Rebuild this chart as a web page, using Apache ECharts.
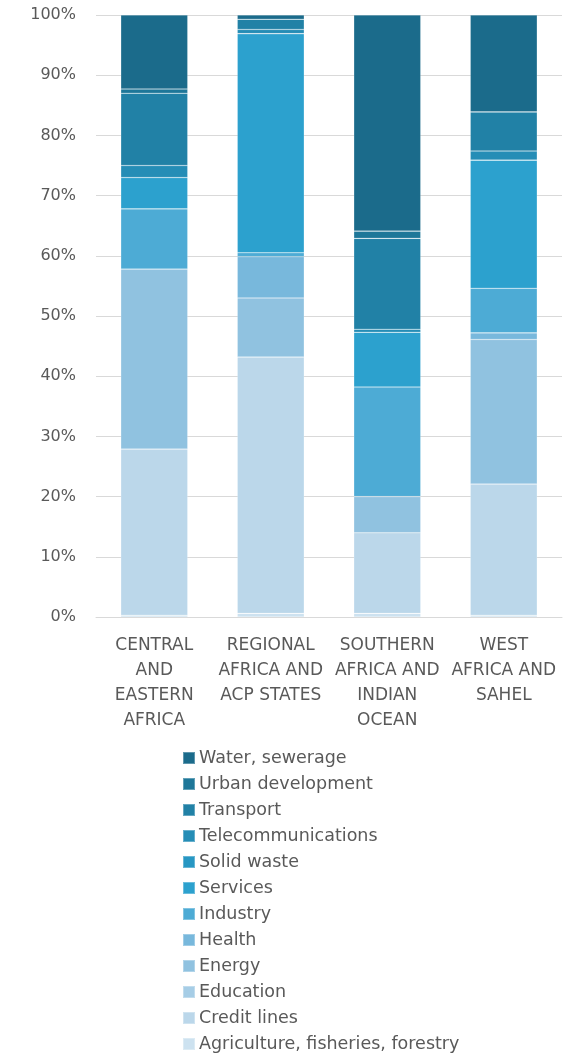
<!DOCTYPE html>
<html>
<head>
<meta charset="utf-8">
<script src="https://cdn.jsdelivr.net/npm/echarts@6/dist/echarts.min.js"></script>
<style>html,body{margin:0;padding:0;background:#fff;}#c{width:585px;height:1059px;}</style>
</head>
<body>
<div id="c"></div>
<script>
const categories = ["CENTRAL\nAND\nEASTERN\nAFRICA", "REGIONAL\nAFRICA AND\nACP STATES", "SOUTHERN\nAFRICA AND\nINDIAN\nOCEAN", "WEST\nAFRICA AND\nSAHEL"];
const seriesNames = ["Agriculture, fisheries, forestry", "Credit lines", "Education", "Energy", "Health", "Industry", "Services", "Solid waste", "Telecommunications", "Transport", "Urban development", "Water, sewerage"];
const agriculture = [0.3, 0.6, 0.6, 0.3];
const creditLines = [27.6, 42.6, 13.4, 21.8];
const education = [0, 0, 0, 0];
const energy = [29.9, 9.8, 6.0, 24.0];
const health = [0, 6.85, 0, 1.1];
const industry = [10.0, 0.65, 18.2, 7.4];
const services = [5.2, 36.4, 9.1, 21.3];
const solidWaste = [0, 0, 0, 0];
const telecom = [2.0, 0.7, 0.5, 1.5];
const transport = [12.0, 1.7, 15.1, 6.5];
const urban = [0.7, 0, 1.2, 0];
const water = [12.3, 0.7, 35.9, 16.1];
const yTicks = [0, 10, 20, 30, 40, 50, 60, 70, 80, 90, 100];

const values = [agriculture, creditLines, education, energy, health, industry, services, solidWaste, telecom, transport, urban, water];
const colors = ["#cde2f0", "#bbd7ea", "#a6cde6", "#90c2e0", "#78b8dc", "#4dabd5", "#2ca1ce", "#2797c3", "#258db6", "#2181a6", "#1e7799", "#1b6b8b"];

const chart = echarts.init(document.getElementById('c'), null, {renderer: 'canvas'});
const font = "'DejaVu Sans', sans-serif";
chart.setOption({
  animation: false,
  color: colors,
  grid: {left: 96, right: 23, top: 15, bottom: 442, containLabel: false},
  legend: {
    orient: 'vertical',
    left: 182,
    top: 749,
    padding: 0,
    height: 400,
    itemWidth: 12,
    itemHeight: 12,
    itemGap: 8,
    icon: 'rect',
    data: seriesNames.slice().reverse(),
    textStyle: {fontFamily: font, fontSize: 17.5, color: '#595959', lineHeight: 18, padding: [0, 0, 0, -1]}
  },
  xAxis: {
    type: 'category',
    data: categories,
    axisLine: {show: true, lineStyle: {color: '#d9d9d9', width: 1}},
    axisTick: {show: false},
    axisLabel: {fontFamily: font, fontSize: 17, color: '#595959', lineHeight: 25, margin: 16, interval: 0, align: 'center'}
  },
  yAxis: {
    type: 'value',
    min: 0, max: 100, interval: 10,
    axisLine: {show: false},
    axisTick: {show: false},
    splitLine: {lineStyle: {color: '#d9d9d9', width: 1}},
    axisLabel: {fontFamily: font, fontSize: 16, color: '#595959', margin: 20,
      formatter: v => yTicks.includes(v) ? v + '%' : ''}
  },
  series: seriesNames.map((n, i) => ({
    name: n,
    type: 'bar',
    stack: 'total',
    barWidth: 67,
    data: values[i],
    itemStyle: {color: colors[i], borderColor: 'rgba(255,255,255,0.3)', borderWidth: 0.6}
  }))
});
</script>
</body>
</html>
